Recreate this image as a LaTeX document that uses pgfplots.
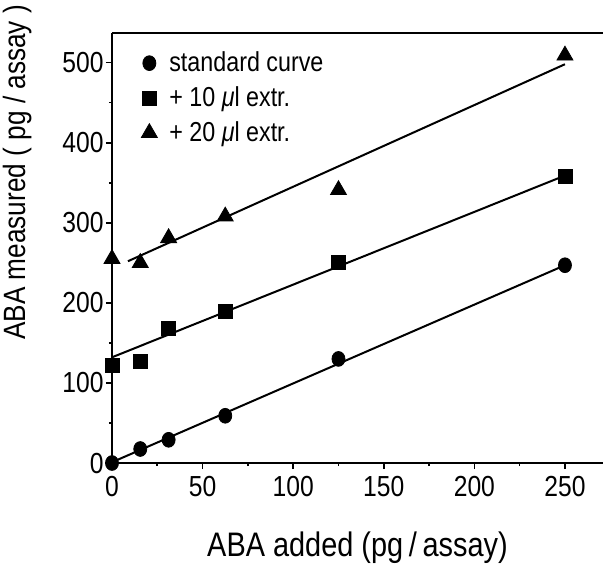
\documentclass[border=0pt]{standalone}
\usepackage{fontspec}
\setmainfont{Liberation Sans}[FakeStretch=0.85]
\usepackage{pgfplots}
\pgfplotsset{compat=1.18}

\begin{document}
\begin{tikzpicture}
\begin{axis}[
  scale only axis, width=245.5pt, height=215pt,
  xmin=0, xmax=271, ymin=0, ymax=537,
  axis x line=box, axis y line=left,
  axis line style={-, line width=1pt},
  tick pos=left, tick align=outside,
  xtick={0,50,...,250}, ytick={0,100,...,500},
  minor x tick num=1, minor y tick num=1,
  major tick length=3pt, minor tick length=1.5pt,
  tick style={line width=0.8pt, black},
  /pgf/number format/assume math mode=true,
  tick label style={font=\fontsize{14.5}{16}\selectfont},
  yticklabel style={inner xsep=1pt},
  clip=false,
  xlabel={ABA added (pg\,/\,assay)},
  ylabel={ABA measured ( pg / assay )},
  every axis x label/.style={at={(rel axis cs:0.5,-0.198)}, anchor=center, font=\fontsize{17}{20}\selectfont},
  every axis y label/.style={at={(rel axis cs:-0.1914,0.676)}, rotate=90, anchor=center, font=\fontsize{15.4}{19}\selectfont},
  legend cell align=left,
  legend style={draw=none, fill=none, at={(rel axis cs:0.055,0.976)}, anchor=north west,
    font=\fontsize{13.7}{15}\selectfont, row sep=0pt, inner sep=1pt, nodes={inner ysep=3pt},
    /tikz/every odd column/.append style={column sep=4pt}},
]
\addplot[only marks, mark=*, mark size=3.7pt, mark options={xscale=0.88}] coordinates {
  (0,0) (15.6,17.5) (31.25,29) (62.5,59) (125,130) (250,247)};
\addlegendentry{standard curve}
\addplot[only marks, mark=square*, mark size=3.5pt] coordinates {
  (0,122) (15.6,127) (31.25,168) (62.5,189) (125,251) (250,358)};
\addlegendentry{+ 10 \textit{μ}l extr.}
\addplot[only marks, mark=triangle*, mark size=4.6pt] coordinates {
  (0,255) (15.6,250) (31.25,281) (62.5,308) (125,341) (250,509)};
\addlegendentry{+ 20 \textit{μ}l extr.}
\addplot[line width=1pt, forget plot] coordinates {(0,1) (250,247)};
\addplot[line width=1pt, forget plot] coordinates {(0,132) (250,359)};
\addplot[line width=1pt, forget plot] coordinates {(8.8,252) (250,498)};
\end{axis}
\pgfresetboundingbox
\path ([xshift=-56pt,yshift=-56pt]current axis.south west) rectangle ([yshift=16.5pt]current axis.north east);
\end{tikzpicture}
\end{document}
